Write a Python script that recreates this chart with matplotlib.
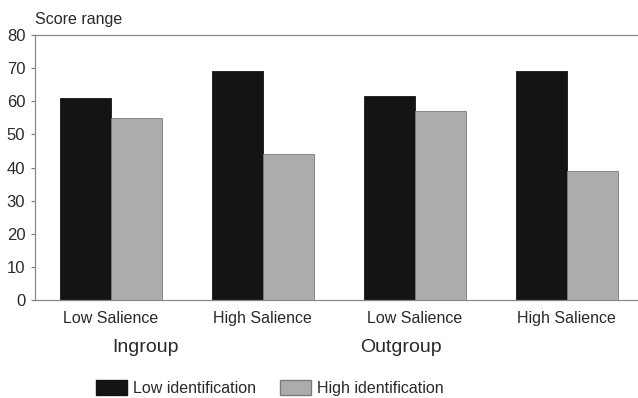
import numpy as np
import matplotlib
matplotlib.use("Agg")
import matplotlib.pyplot as plt
from matplotlib.patches import Patch

plt.rcParams['font.family'] = ['Liberation Sans', 'DejaVu Sans']

# data
conditions = ['Low Salience', 'High Salience', 'Low Salience', 'High Salience']
groups = ['Ingroup', 'Outgroup']
low_ident = [61, 69, 61.5, 69]
high_ident = [55, 44, 57, 39]
yticks = [0, 10, 20, 30, 40, 50, 60, 70, 80]

txt = '#2a2a2a'
fig = plt.figure(figsize=(6.38, 3.98), dpi=100)
ax = fig.add_axes([35/638, 1-300/398, 603/638, 265/398])

x = np.arange(len(conditions))
w = 0.336
ax.bar(x - w/2, low_ident, w, color='#141414', edgecolor='#141414', linewidth=0.6)
ax.bar(x + w/2, high_ident, w, color='#acacac', edgecolor='#7a7a7a', linewidth=0.6)

ax.set_xlim(-0.5, 3.47)
ax.set_ylim(0, 80)
ax.set_yticks(yticks)
ax.set_xticks(x)
ax.set_xticklabels(conditions, fontsize=11.5, color=txt, va='center_baseline')
ax.tick_params(axis='x', length=0, pad=12)
ax.tick_params(axis='y', length=3, width=0.8, colors='#777777', labelcolor=txt,
               labelsize=12, pad=4)
for s in ['top', 'left', 'bottom']:
    ax.spines[s].set_color('#888888')
    ax.spines[s].set_linewidth(0.9)
ax.spines['right'].set_visible(False)

ax.text(-0.5, 82.5, 'Score range', fontsize=11.5, color=txt, va='bottom')

fig.text(145/638, 1-347/398, groups[0], fontsize=14, color=txt, ha='center', va='center')
fig.text(401/638, 1-347/398, groups[1], fontsize=14, color=txt, ha='center', va='center')

handles = [Patch(facecolor='#141414', edgecolor='#141414'),
           Patch(facecolor='#acacac', edgecolor='#7a7a7a')]
fig.legend(handles, ['Low identification', 'High identification'],
           loc='center', bbox_to_anchor=(270/638, 1-388/398), ncol=2, frameon=False,
           fontsize=11.5, handlelength=1.9, handleheight=1.1, handletextpad=0.4,
           columnspacing=1.5, labelcolor=txt)

fig.savefig('out.png', dpi=100)
